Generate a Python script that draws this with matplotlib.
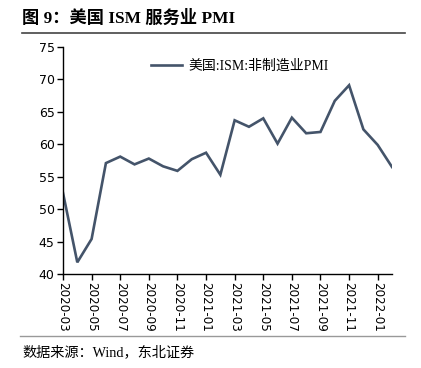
import matplotlib
matplotlib.use("Agg")
import matplotlib.pyplot as plt
from matplotlib.lines import Line2D

months = ["2020-03","2020-04","2020-05","2020-06","2020-07","2020-08","2020-09","2020-10",
          "2020-11","2020-12","2021-01","2021-02","2021-03","2021-04","2021-05","2021-06",
          "2021-07","2021-08","2021-09","2021-10","2021-11","2021-12","2022-01","2022-02"]
pmi = [52.5, 41.8, 45.4, 57.1, 58.1, 56.9, 57.8, 56.6, 55.9, 57.7, 58.7, 55.3,
       63.7, 62.7, 64.0, 60.1, 64.1, 61.7, 61.9, 66.7, 69.1, 62.3, 59.9, 56.5]
series_name = "美国:ISM:非制造业PMI"
title = "图 9：美国 ISM 服务业 PMI"
source = "数据来源：Wind，东北证券"

W, H = 421, 368
fig = plt.figure(figsize=(W/100, H/100), dpi=100)
ax = fig.add_axes([63/W, 1-274/H, (392-63)/W, (274-47)/H])

x = list(range(len(months)))
ax.plot(x, pmi, color="#44546A", lw=1.9, solid_joinstyle="miter")
ax.set_xlim(0, len(months)-1)
ax.set_ylim(40, 75)
ax.set_yticks(range(40, 76, 5))
ax.set_xticks(x[::2])
ax.set_xticklabels(months[::2], rotation=-90, fontsize=8.6, family="DejaVu Sans")
for lbl in ax.get_yticklabels():
    lbl.set_fontsize(9)
    lbl.set_family("DejaVu Sans")
ax.tick_params(direction="out", length=4, width=1, color="black", pad=2)
for s in ["top", "right"]:
    ax.spines[s].set_visible(False)
for s in ["left", "bottom"]:
    ax.spines[s].set_linewidth(1)

serif = ["Liberation Serif", "Noto Sans CJK SC"]
ax.legend([Line2D([0], [0], color="#44546A", lw=1.9)], [series_name],
          loc="upper left", bbox_to_anchor=((138-63)/(392-63), 1.0),
          frameon=False, handlelength=2.3, handletextpad=0.4,
          prop={"family": serif, "size": 10})

fig.text(22/W, 1-18/H, title, fontsize=12.4, fontweight="bold", family=serif, va="center", ha="left")
fig.add_artist(Line2D([22/W, 405/W], [1-33/H, 1-33/H], color="#444444", lw=1.2))
fig.add_artist(Line2D([20/W, 405/W], [1-335.5/H, 1-335.5/H], color="#999999", lw=1.0))
fig.text(22/W, 1-352/H, source, fontsize=10.2, family=serif, va="center", ha="left")

fig.savefig("out.png", dpi=100)
